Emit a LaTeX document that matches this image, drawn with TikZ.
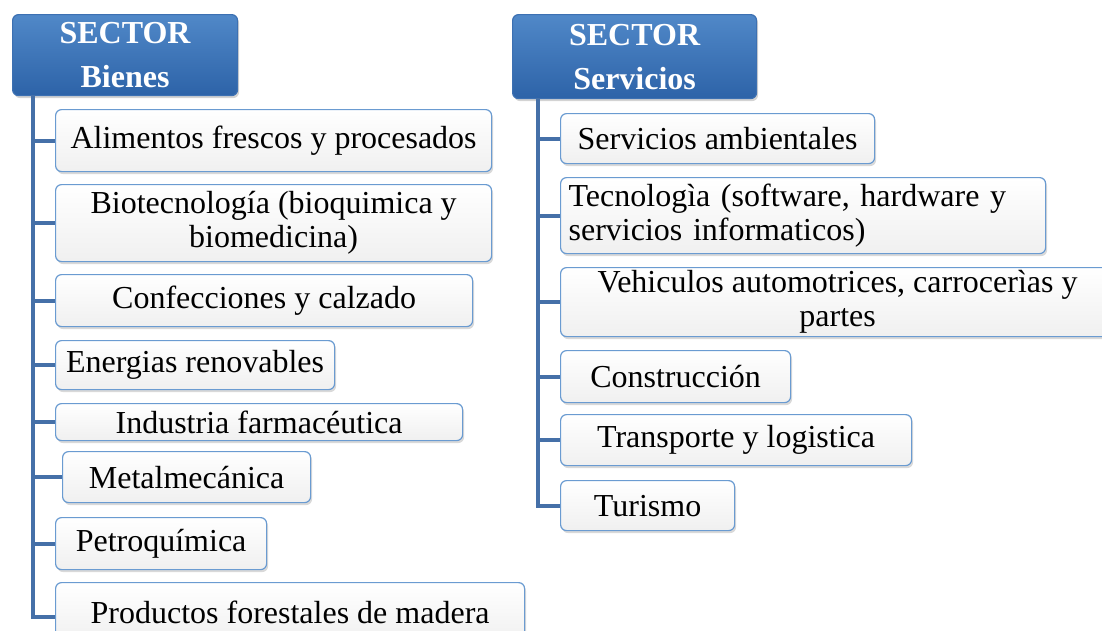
\documentclass[tikz,border=0pt]{standalone}
\usepackage{fontspec}
\setmainfont{Liberation Serif}
\usetikzlibrary{shadows}

\definecolor{headtop}{HTML}{5088C8}
\definecolor{headbot}{HTML}{2D63A8}
\definecolor{headline}{HTML}{3C70B2}
\definecolor{boxline}{HTML}{6A9BD1}
\definecolor{trunk}{HTML}{4570A8}

\begin{document}
\begin{tikzpicture}[x=1pt, y=-1pt,
    every node/.style={font=\fontsize{32}{34}\selectfont, inner sep=0pt, anchor=north west},
    head/.style={draw=headline, line width=1.2pt, rounded corners=6pt,
        top color=headtop, bottom color=headbot, text=white,
        font=\fontsize{32}{44}\selectfont\bfseries, align=center,
        drop shadow={opacity=0.35, shadow xshift=1.5pt, shadow yshift=-2.5pt}},
    item/.style={draw=boxline, line width=1.2pt, rounded corners=6pt,
        top color=white, bottom color=black!6, align=center,
        drop shadow={opacity=0.3, shadow xshift=1.5pt, shadow yshift=-2.5pt}},
    link/.style={trunk, line width=4pt}]
    \useasboundingbox (0,0) rectangle (1102,630);

    % Sector bienes
    \node[head, minimum width=225pt, minimum height=81pt] (hBienes) at (12,14) {SECTOR\\Bienes};
    \coordinate (lroot) at (33,95);

    \node[item, minimum width=436pt, minimum height=62pt] (bAli) at (55,109) {Alimentos frescos y procesados};
    \node[item, minimum width=436pt, minimum height=77pt] (bBio) at (55,184) {Biotecnología (bioquimica y\\biomedicina)};
    \node[item, minimum width=417pt, minimum height=52pt] (bCon) at (55,274) {Confecciones y calzado};
    \node[item, minimum width=279pt, minimum height=49pt] (bEne) at (55,340) {Energias renovables};
    \node[item, minimum width=407pt, minimum height=37pt] (bInd) at (55,403) {Industria farmacéutica};
    \node[item, minimum width=248pt, minimum height=51pt] (bMet) at (62,451) {Metalmecánica};
    \node[item, minimum width=211pt, minimum height=52pt] (bPet) at (55,517) {Petroquímica};
    \node[item, minimum width=469pt, minimum height=60pt] (bPro) at (55,582) {Productos forestales de madera};

    \draw[link] (lroot) |- (bAli.west);
    \draw[link] (lroot) |- (bBio.west);
    \draw[link] (lroot) |- (bCon.west);
    \draw[link] (lroot) |- (bEne.west);
    \draw[link] (lroot) |- (bInd.west);
    \draw[link] (lroot) |- (bMet.west);
    \draw[link] (lroot) |- (bPet.west);
    \draw[link] (lroot) |- ([yshift=-4pt]bPro.west);

    % Sector servicios
    \node[head, minimum width=244pt, minimum height=84pt] (hServ) at (512,14) {SECTOR\\Servicios};
    \coordinate (rroot) at (538,98);

    \node[item, minimum width=314pt, minimum height=50pt] (sAmb) at (560,113) {Servicios ambientales};
    \node[item, minimum height=76pt, text width=469pt, inner xsep=8pt, align=left] (sTec) at (560,177) {Tecnologìa (software, hardware y\\servicios informaticos)};
    \node[item, minimum width=554pt, minimum height=69pt] (sVeh) at (560,267) {Vehiculos automotrices, carrocerìas y\\partes};
    \node[item, minimum width=230pt, minimum height=52pt] (sCon) at (560,350) {Construcción};
    \node[item, minimum width=351pt, minimum height=51pt] (sTra) at (560,414) {Transporte y logistica};
    \node[item, minimum width=174pt, minimum height=50pt] (sTur) at (560,480) {Turismo};

    \draw[link] (rroot) |- (sAmb.west);
    \draw[link] (rroot) |- (sTec.west);
    \draw[link] (rroot) |- (sVeh.west);
    \draw[link] (rroot) |- (sCon.west);
    \draw[link] (rroot) |- (sTra.west);
    \draw[link] (rroot) |- (sTur.west);
\end{tikzpicture}
\end{document}
